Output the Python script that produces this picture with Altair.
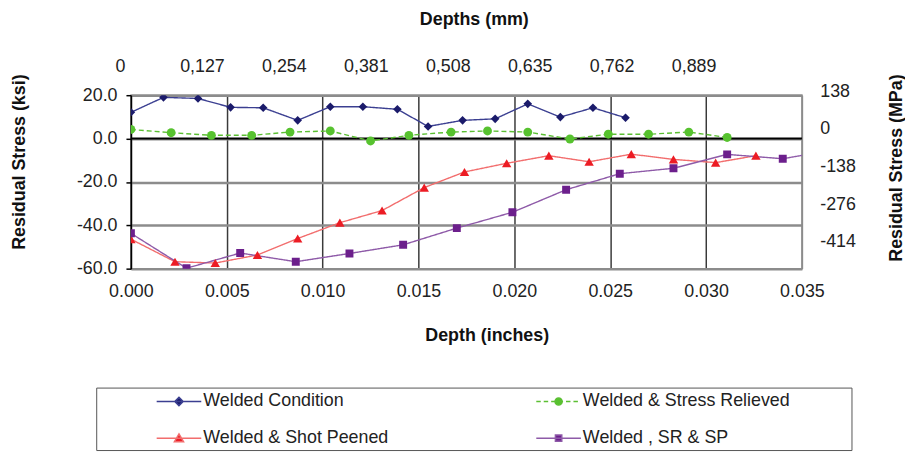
import altair as alt
import pandas as pd

# ---------------- data ----------------
series_names = ["Welded Condition", "Welded & Stress Relieved",
                "Welded & Shot Peened", "Welded , SR & SP"]
# legend is filled column by column: Condition / Shot Peened, then SR / SR&SP
legend_order = ["Welded Condition", "Welded & Shot Peened",
                "Welded & Stress Relieved", "Welded , SR & SP"]

wc_x = [0.0000, 0.0017, 0.0035, 0.0052, 0.0069, 0.0087, 0.0104, 0.0121,
        0.0139, 0.0155, 0.0173, 0.0190, 0.0207, 0.0224, 0.0241, 0.0258]
wc_y = [12.1, 19.0, 18.5, 14.4, 14.2, 8.4, 14.7, 14.7,
        13.5, 5.6, 8.4, 9.1, 16.0, 9.9, 14.2, 9.6]

sr_x = [0.0000, 0.0021, 0.0042, 0.0063, 0.0083, 0.0104, 0.0125, 0.0145,
        0.0167, 0.0186, 0.0207, 0.0229, 0.0249, 0.0270, 0.0291, 0.0311]
sr_y = [4.2, 2.7, 1.5, 1.5, 3.0, 3.5, -1.1, 1.5,
        3.0, 3.5, 3.0, -0.2, 2.0, 2.0, 3.0, 0.5]

sp_x = [0.0000, 0.0023, 0.0044, 0.0066, 0.0087, 0.0109, 0.0131, 0.0153,
        0.0174, 0.0196, 0.0218, 0.0239, 0.0261, 0.0283, 0.0305, 0.0326]
sp_y = [-46.4, -56.8, -57.4, -53.7, -46.1, -38.8, -33.2, -22.6,
        -15.4, -11.4, -7.9, -10.7, -7.2, -9.6, -11.1, -7.9]

srsp_x = [0.0000, 0.0029, 0.0057, 0.0086, 0.0114, 0.0142, 0.0170, 0.0199,
          0.0227, 0.0255, 0.0283, 0.0311, 0.0340, 0.0368]
srsp_y = [-43.7, -59.8, -52.8, -56.8, -53.0, -49.0, -41.3, -34.0,
          -23.6, -16.2, -13.7, -7.3, -9.3, -5.0]

x_ticks = [0.000, 0.005, 0.010, 0.015, 0.020, 0.025, 0.030, 0.035]
y_ticks = [-60, -40, -20, 0, 20]
mm_ticks = [0, 0.127, 0.254, 0.381, 0.508, 0.635, 0.762, 0.889]
mpa_ticks = [138, 0, -138, -276, -414]
zero_line = [0.0]

# ---------------- styling ----------------
FONT = "Liberation Sans"
style = {
    "Welded Condition": dict(line="#3b3f91", marker="#1b1b6b", shape="diamond", size=75, dash=[1, 0]),
    "Welded & Stress Relieved": dict(line="#5cbf33", marker="#57c22f", shape="circle", size=80, dash=[5, 3]),
    "Welded & Shot Peened": dict(line="#f26d6d", marker="#ec1c24", shape="triangle-up", size=90, dash=[1, 0]),
    "Welded , SR & SP": dict(line="#8e5aa8", marker="#6c1f8c", shape="square", size=64, dash=[1, 0]),
}
HYPHEN = "(datum.value < 0 ? '-' : '') + format(abs(datum.value), '{}')"

# legend symbols: line segment + marker (custom svg paths in unit box)
L = 2.25


def solid():
    return f"M{-L},0L{L},0"


def dashed():
    parts, x = [], -L
    while x < L:
        x2 = min(x + 0.45, L)
        parts.append(f"M{x:.3f},0L{x2:.3f},0")
        x += 0.75
    return "".join(parts)


right_ext = "M28.9,0"
legend_path = {
    "Welded Condition": solid() + "M0,-0.42L0.42,0L0,0.42L-0.42,0Z",
    "Welded & Shot Peened": solid() + "M0,-0.42L0.46,0.36L-0.46,0.36Z",
    "Welded & Stress Relieved": dashed()
    + "M-0.36,0A0.36,0.36,0,1,0,0.36,0A0.36,0.36,0,1,0,-0.36,0Z" + right_ext,
    "Welded , SR & SP": solid()
    + "M-0.32,-0.32L0.32,-0.32L0.32,0.32L-0.32,0.32Z" + right_ext,
}

rows = []
for name, xs, ys in zip(series_names, [wc_x, sr_x, sp_x, srsp_x],
                        [wc_y, sr_y, sp_y, srsp_y]):
    for xv, yv in zip(xs, ys):
        rows.append({"series": name, "x": xv, "y": yv})
df = pd.DataFrame(rows)

x_enc = alt.X(
    "x:Q",
    scale=alt.Scale(domain=[0, 0.035], nice=False, zero=False),
    axis=alt.Axis(
        orient="bottom", values=x_ticks, format=".3f", title="Depth (inches)",
        grid=True,
        gridColor={"condition": {"test": "datum.value >= 0.0349", "value": "#8c8c8c"},
                   "value": "#3a3a3a"},
        gridWidth=1.5, domain=False, ticks=False, labelPadding=14,
        labelFont=FONT, labelFontSize=18, labelColor="#222", labelFlush=False,
        labelOverlap=False, titleFont=FONT, titleFontSize=18, titleFontWeight="bold",
        titleColor="#111", titleX=359, titleY=67, titleBaseline="middle",
    ),
)
y_enc = alt.Y(
    "y:Q",
    scale=alt.Scale(domain=[-60, 20], nice=False, zero=False),
    axis=alt.Axis(
        orient="left", values=y_ticks, labelExpr=HYPHEN.format(".1f"),
        title="Residual  Stress (ksi)",
        grid=True, gridColor="#8c8c8c", gridWidth=2.5,
        domain=True, domainColor="#000", domainWidth=1.5,
        ticks=True, tickColor="#000", tickSize=5, tickWidth=1.5, labelPadding=9,
        labelFont=FONT, labelFontSize=18, labelColor="#222", labelFlush=False,
        labelOverlap=False, titleFont=FONT, titleFontSize=18, titleFontWeight="bold",
        titleColor="#111", titleX=-112, titleY=67, titleAngle=270,
        titleBaseline="middle",
    ),
)

zero_rule = alt.Chart(pd.DataFrame({"y": zero_line})).mark_rule(
    color="#000", strokeWidth=2).encode(y=y_enc)

line_layers = []
point_layers = []
for name in series_names:
    st = style[name]
    sub = alt.Chart(df).transform_filter(alt.datum.series == name)
    line_layers.append(
        sub.mark_line(color=st["line"], strokeWidth=1.4, strokeDash=st["dash"], clip=True)
        .encode(x=x_enc, y=y_enc)
    )
    point_layers.append(
        sub.mark_point(shape=st["shape"], filled=True, size=st["size"],
                       color=st["marker"], opacity=1, clip=True)
        .encode(x=x_enc, y=y_enc)
    )

leg = alt.Legend(
    orient="none", legendX=-35, legendY=295, columns=2, columnPadding=91,
    rowPadding=17, padding=3, strokeColor="#555", fillColor="white", title=None,
    labelFont=FONT, labelFontSize=18, labelColor="#222", labelOffset=13.5,
    labelLimit=400, symbolSize=400, symbolOffset=69.5, symbolStrokeWidth=1.5,
    symbolOpacity=1,
)
legend_layer = alt.Chart(df).mark_point(opacity=0, filled=False).encode(
    color=alt.Color("series:N", scale=alt.Scale(
        domain=legend_order, range=[style[n]["line"] for n in legend_order]), legend=leg),
    fill=alt.Fill("series:N", scale=alt.Scale(
        domain=legend_order, range=[style[n]["marker"] for n in legend_order]), legend=leg),
    shape=alt.Shape("series:N", scale=alt.Scale(
        domain=legend_order, range=[legend_path[n] for n in legend_order]), legend=leg),
)

main = alt.layer(zero_rule, *line_layers, *point_layers, legend_layer)

top_layer = alt.Chart(pd.DataFrame({"mm": mm_ticks})).mark_point(opacity=0).encode(
    x=alt.X("mm:Q", scale=alt.Scale(domain=[0, 1.04], nice=False, zero=False),
            axis=alt.Axis(
                orient="top", values=mm_ticks,
                labelExpr="datum.value == 0 ? '0' : replace(format(datum.value, '.3f'), '.', ',')",
                title="Depths (mm)", grid=False, domain=False, ticks=False,
                labelPadding=20, labelOffset=-11, labelFlush=False, labelOverlap=False,
                labelFont=FONT, labelFontSize=18, labelColor="#222",
                titleFont=FONT, titleFontSize=18, titleFontWeight="bold",
                titleColor="#111", titleX=346, titleY=-76, titleBaseline="middle",
            ))
)

right_layer = alt.Chart(pd.DataFrame({"mpa": mpa_ticks})).mark_point(opacity=0).encode(
    y=alt.Y("mpa:Q", scale=alt.Scale(domain=[-497.4, 138], nice=False, zero=False),
            axis=alt.Axis(
                orient="right", values=mpa_ticks, labelExpr=HYPHEN.format("d"),
                title="Residual  Stress (MPa)", grid=False, domain=False, ticks=False,
                labelPadding=18, labelOffset=-4, labelFlush=False, labelOverlap=False,
                labelFont=FONT, labelFontSize=18, labelColor="#222",
                titleFont=FONT, titleFontSize=18, titleFontWeight="bold",
                titleColor="#111", titleX=95, titleY=73, titleAngle=270,
                titleBaseline="middle",
            ))
)

chart = alt.layer(main, top_layer, right_layer).resolve_scale(
    x="independent", y="independent"
).properties(
    width=677, height=175,
    autosize=alt.AutoSizeParams(type="none"),
    padding={"left": 124, "top": 86, "right": 104, "bottom": 183},
    background="white",
).configure_view(stroke="#8c8c8c", strokeWidth=1.5)

chart.save("out.html", embed_options={"renderer": "svg", "actions": False})
